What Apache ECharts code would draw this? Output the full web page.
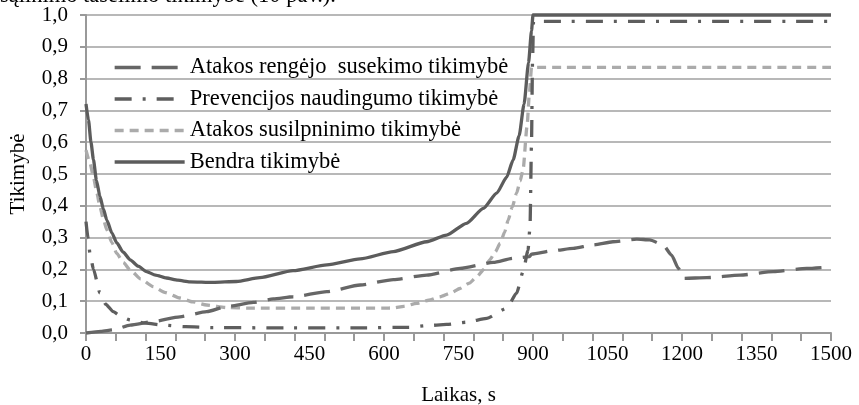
<!DOCTYPE html>
<html>
<head>
<meta charset="utf-8">
<script src="https://cdn.jsdelivr.net/npm/echarts@6/dist/echarts.min.js"></script>
<style>
  html, body { margin: 0; padding: 0; background: #fff; }
  #chart { width: 859px; height: 405px; }
</style>
</head>
<body>
<div id="chart"></div>
<script>
// [laikas, tikimybe] pairs
const rengejoPoints = [
  [0, 0], [30, 0.005], [55, 0.01], [89, 0.025], [135, 0.036], [189, 0.051],
  [243, 0.067], [283, 0.083], [337, 0.096], [377, 0.107], [417, 0.114],
  [485, 0.13], [552, 0.151], [619, 0.168], [686, 0.182], [753, 0.203],
  [820, 0.222], [860, 0.235], [893, 0.24], [897, 0.248], [941, 0.259],
  [981, 0.266], [1021, 0.277], [1061, 0.287], [1109, 0.295], [1135, 0.293],
  [1162, 0.277], [1179, 0.245], [1193, 0.203], [1203, 0.172], [1250, 0.174],
  [1317, 0.182], [1384, 0.193], [1451, 0.203], [1500, 0.208],
];
const prevencijosPoints = [
  [0, 0.35], [4, 0.3], [8, 0.25], [15, 0.2], [28, 0.126], [40, 0.09],
  [55, 0.067], [70, 0.052], [89, 0.041], [120, 0.031], [155, 0.025],
  [200, 0.02], [256, 0.017], [400, 0.016], [550, 0.016], [650, 0.018],
  [686, 0.023], [726, 0.027], [766, 0.034], [807, 0.046], [847, 0.078],
  [867, 0.125], [880, 0.193], [890, 0.26], [894, 0.334], [897, 0.6],
  [899, 0.85], [901, 0.98], [1500, 0.98],
];
const susilpninimoPoints = [
  [0, 0.575], [8, 0.535], [15, 0.49], [22, 0.44], [28, 0.397], [35, 0.358],
  [42, 0.324], [52, 0.284], [62, 0.25], [75, 0.222], [89, 0.198],
  [110, 0.17], [135, 0.146], [160, 0.127], [189, 0.11], [215, 0.098],
  [243, 0.088], [283, 0.08], [330, 0.078], [450, 0.078], [600, 0.078],
  [619, 0.079], [640, 0.084], [666, 0.093], [690, 0.103], [713, 0.114],
  [735, 0.126], [753, 0.14], [772, 0.157], [787, 0.177], [801, 0.2],
  [813, 0.23], [824, 0.255], [834, 0.282], [843, 0.318], [850, 0.355],
  [858, 0.395], [867, 0.44], [874, 0.478], [880, 0.513], [888, 0.65],
  [893, 0.76], [897, 0.835], [1500, 0.835],
];
const bendraPoints = [
  [0, 0.72], [5, 0.67], [10, 0.6], [15, 0.545], [21, 0.48], [28, 0.43],
  [35, 0.39], [42, 0.355], [52, 0.315], [62, 0.283], [75, 0.254], [89, 0.23],
  [105, 0.21], [122, 0.193], [140, 0.182], [162, 0.173], [185, 0.166],
  [209, 0.161], [256, 0.159], [303, 0.162], [350, 0.174], [417, 0.196],
  [485, 0.214], [552, 0.233], [619, 0.256], [686, 0.287], [726, 0.308],
  [766, 0.345], [800, 0.392], [827, 0.44], [847, 0.49], [860, 0.544],
  [872, 0.62], [882, 0.72], [891, 0.85], [897, 0.95], [900, 1.0], [1500, 1.0],
];
const seriesNames = [
  'Atakos rengėjo  susekimo tikimybė',
  'Prevencijos naudingumo tikimybė',
  'Atakos susilpninimo tikimybė',
  'Bendra tikimybė',
];

const FONT = 'Liberation Serif';
const chart = echarts.init(document.getElementById('chart'));

const lineSeries = (name, data, color, type, z) => ({
  name,
  type: 'line',
  data,
  symbol: 'none',
  smooth: 0.2,
  smoothMonotone: 'x',
  clip: false,
  z,
  lineStyle: { color, width: 3.3, type },
  itemStyle: { color },
});

chart.setOption({
  animation: false,
  textStyle: { fontFamily: FONT },
  graphic: [{
    type: 'text',
    left: 0,
    top: -15,
    style: {
      text: 'sąlinimo tašelimo tikimybė (10 pav.).',
      font: '22.5px ' + FONT,
      fill: '#000',
    },
  }],
  grid: { left: 86, right: 28, top: 15, bottom: 72, outerBoundsMode: 'none' },
  legend: {
    orient: 'vertical',
    left: 113,
    top: 56,
    padding: 0,
    itemGap: 8.5,
    itemWidth: 70,
    itemHeight: 14,
    itemStyle: { opacity: 0 },
    lineStyle: { width: 3.3 },
    textStyle: { fontFamily: FONT, fontSize: 22.5, color: '#000' },
    data: seriesNames,
  },
  xAxis: [
    {
      type: 'value',
      min: 0,
      max: 1500,
      interval: 150,
      name: 'Laikas, s',
      nameLocation: 'middle',
      nameGap: 52,
      nameTextStyle: { fontFamily: FONT, fontSize: 21, color: '#000' },
      axisLine: { show: true, lineStyle: { color: '#999', width: 2 } },
      axisTick: { show: false },
      axisLabel: {
        margin: 11,
        fontFamily: FONT,
        fontSize: 21,
        color: '#000',
        formatter: (v) => String(v),
      },
      splitLine: { show: false },
    },
    {
      type: 'value',
      position: 'bottom',
      offset: 0,
      min: 0,
      max: 1500,
      interval: 60,
      axisLine: { show: false },
      axisTick: { show: true, length: 8, lineStyle: { color: '#999', width: 2 } },
      axisLabel: { show: false },
      splitLine: { show: false },
    },
  ],
  yAxis: {
    type: 'value',
    min: 0,
    max: 1,
    interval: 0.1,
    name: 'Tikimybė',
    nameLocation: 'middle',
    nameGap: 57,
    nameTextStyle: { fontFamily: FONT, fontSize: 21, color: '#000' },
    axisLine: { show: true, lineStyle: { color: '#999', width: 2 } },
    axisTick: { show: true, length: 6, lineStyle: { color: '#999', width: 2 } },
    axisLabel: {
      margin: 18,
      fontFamily: FONT,
      fontSize: 21,
      color: '#000',
      formatter: (v) => v.toFixed(1).replace('.', ','),
    },
    splitLine: { show: true, lineStyle: { color: '#a0a0a0', width: 1.5 } },
  },
  series: [
    lineSeries(seriesNames[0], rengejoPoints, '#666666', [26, 11], 3),
    lineSeries(seriesNames[1], prevencijosPoints, '#5e5e5e', [17, 11, 3, 11], 4),
    lineSeries(seriesNames[2], susilpninimoPoints, '#ababab', [9, 6], 2),
    lineSeries(seriesNames[3], bendraPoints, '#5c5c5c', 'solid', 5),
  ],
});
</script>
</body>
</html>
